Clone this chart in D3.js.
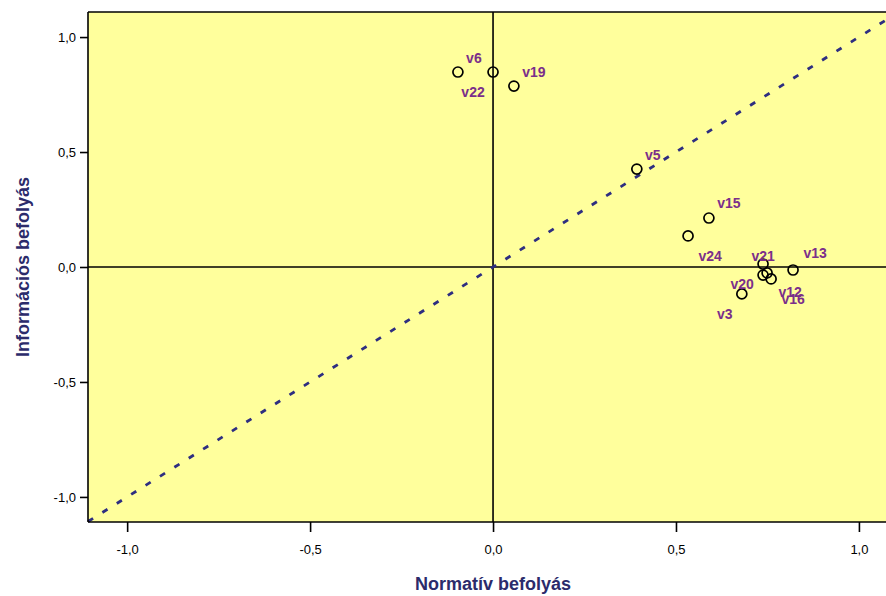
<!DOCTYPE html>
<html><head><meta charset="utf-8">
<script src="https://cdn.jsdelivr.net/npm/d3@7"></script>
<style>body{margin:0;background:#fff}svg{display:block}</style>
</head><body>
<svg id="c" width="886" height="596"></svg>
<script>
const labels = ["v6","v22","v19","v5","v15","v24","v21","v13","v20","v12","v16","v3"];
const xVals  = [-0.096, 0.000, 0.057, 0.393, 0.590, 0.533, 0.738, 0.820, 0.738, 0.749, 0.760, 0.680];
const yVals  = [0.848, 0.848, 0.787, 0.426, 0.213, 0.135, 0.013, -0.013, -0.035, -0.026, -0.052, -0.117];
const xTicks = [-1.0, -0.5, 0.0, 0.5, 1.0];
const yTicks = [-1.0, -0.5, 0.0, 0.5, 1.0];
const xTitle = "Normatív befolyás";
const yTitle = "Információs befolyás";
// label placement offsets (px)
const labelDx = [16, -20, 20, 16, 20, 22, 0, 22, -21, 23, 22, -17];
const labelDy = [-14, 20, -14, -14, -15, 20, -8, -17, 9, 19, 20, 20];

const svg = d3.select("#c");
const L = 88, R = 886, T = 12, B = 522;
const x = d3.scaleLinear().domain([-1.107, 1.074]).range([L, R]);
const y = d3.scaleLinear().domain([-1.109, 1.109]).range([B, T]);
const fmt = d => d3.format(".1f")(d).replace(".", ",").replace("−","-");

svg.append("rect").attr("x", L).attr("y", T).attr("width", R - L).attr("height", B - T)
  .attr("fill", "#FFFF9C");

// reference lines
svg.append("line").attr("x1", L).attr("x2", R).attr("y1", y(0)).attr("y2", y(0))
  .attr("stroke", "#000").attr("stroke-width", 1.6);
svg.append("line").attr("x1", x(0)).attr("x2", x(0)).attr("y1", T).attr("y2", B)
  .attr("stroke", "#000").attr("stroke-width", 1.6);

// diagonal y = x
const d0 = Math.max(x.domain()[0], y.domain()[0]);
const d1 = Math.min(x.domain()[1], y.domain()[1]);
svg.append("line").attr("x1", x(d0)).attr("y1", y(d0)).attr("x2", x(d1)).attr("y2", y(d1))
  .attr("stroke", "#2E2E80").attr("stroke-width", 2.8).attr("stroke-dasharray", "6,11");

// frame
svg.append("line").attr("x1", L).attr("x2", L).attr("y1", T).attr("y2", B).attr("stroke", "#000").attr("stroke-width", 1.6);
svg.append("line").attr("x1", L).attr("x2", R).attr("y1", T).attr("y2", T).attr("stroke", "#000").attr("stroke-width", 1.6);
svg.append("line").attr("x1", L).attr("x2", R).attr("y1", B).attr("y2", B).attr("stroke", "#000").attr("stroke-width", 1.6);

// axes
const xAxis = svg.append("g").attr("transform", `translate(0,${B})`)
  .call(d3.axisBottom(x).tickValues(xTicks).tickFormat(fmt).tickSize(10).tickPadding(13));
const yAxis = svg.append("g").attr("transform", `translate(${L},0)`)
  .call(d3.axisLeft(y).tickValues(yTicks).tickFormat(fmt).tickSize(8).tickPadding(4));
[xAxis, yAxis].forEach(g => {
  g.select(".domain").remove();
  g.selectAll(".tick line").attr("stroke", "#000").attr("stroke-width", 1.6);
  g.selectAll(".tick text").attr("fill", "#000").attr("font-family", "Liberation Sans, Arial, sans-serif").attr("font-size", 13);
});

// points
svg.append("g").selectAll("circle").data(labels).join("circle")
  .attr("cx", (d, i) => x(xVals[i])).attr("cy", (d, i) => y(yVals[i]))
  .attr("r", 5).attr("fill", "none").attr("stroke", "#000").attr("stroke-width", 1.7);

svg.append("g").selectAll("text").data(labels).join("text")
  .attr("x", (d, i) => x(xVals[i]) + labelDx[i]).attr("y", (d, i) => y(yVals[i]) + labelDy[i])
  .attr("text-anchor", "middle").attr("dominant-baseline", "central")
  .attr("font-family", "Liberation Sans, Arial, sans-serif").attr("font-weight", "bold")
  .attr("font-size", 14).attr("fill", "#7B2F8A").text(d => d);

// titles
svg.append("text").attr("x", x(0)).attr("y", 590).attr("text-anchor", "middle")
  .attr("font-family", "Liberation Sans, Arial, sans-serif").attr("font-weight", "bold")
  .attr("font-size", 18).attr("fill", "#2B2B6B").text(xTitle);
svg.append("text").attr("transform", `translate(29,${y(0)}) rotate(-90)`).attr("text-anchor", "middle")
  .attr("font-family", "Liberation Sans, Arial, sans-serif").attr("font-weight", "bold")
  .attr("font-size", 18).attr("fill", "#2B2B6B").text(yTitle);
</script>
</body></html>
